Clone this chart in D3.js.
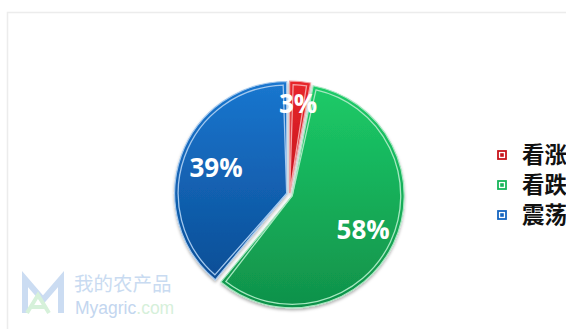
<!DOCTYPE html>
<html>
<head>
<meta charset="utf-8">
<script src="https://cdn.jsdelivr.net/npm/d3@7"></script>
<style>
  html, body { margin: 0; padding: 0; background: #fff; overflow: hidden; }
</style>
</head>
<body>
<div id="chart"></div>
<script>
// Chart data
var categories = ["看涨", "看跌", "震荡"];
var values = [3, 58, 39];
var pctLabels = ["3%", "58%", "39%"];

// Slice colours (top of gradient, bottom of gradient, edge line)
var topCols = ["#e8262b", "#1ccb68", "#1a76cf"];
var botCols = ["#c4141c", "#10914a", "#0b4e96"];
var edgeCols = ["#f4a3a5", "#a6e8c0", "#a3c8ee"];
var legendCols = ["#c8141c", "#17b55a", "#1565c0"];

var svgWdt = 566;
var svgHgt = 329;
var cx = 289.5, cy = 194.5, rad = 112;
var explode = [1.5, 3, 3];

var svg = d3.select("#chart").append("svg")
    .attr("width", svgWdt)
    .attr("height", svgHgt)
    .style("font-family", "'Open Sans', 'Noto Sans CJK SC', sans-serif");

var defs = svg.append("defs");

// Gradients for slices
categories.forEach((c, i) => {
    var g = defs.append("linearGradient")
        .attr("id", "grad" + i)
        .attr("x1", 0).attr("y1", 0).attr("x2", 0).attr("y2", 1);
    g.append("stop").attr("offset", "0%").attr("stop-color", topCols[i]);
    g.append("stop").attr("offset", "100%").attr("stop-color", botCols[i]);
});

var shadow = defs.append("filter").attr("id", "shadow")
    .attr("x", "-10%").attr("y", "-10%").attr("width", "130%").attr("height", "130%");
shadow.append("feDropShadow")
    .attr("dx", 0).attr("dy", 2).attr("stdDeviation", 1.5)
    .attr("flood-color", "#000").attr("flood-opacity", 0.3);

// Panel border
svg.append("path")
    .attr("d", `M7.5,${svgHgt} L7.5,12.5 L${svgWdt},12.5`)
    .attr("fill", "none")
    .attr("stroke", "#ececec")
    .attr("stroke-width", 1.5);

// Watermark
var wm = svg.append("g");
wm.append("path")
    .attr("d", "M25,313 L25,279 L43,300 L61,279 L61,313")
    .attr("fill", "none")
    .attr("stroke", "#cbdcf2")
    .attr("stroke-width", 6)
    .attr("stroke-linejoin", "miter");
wm.append("path")
    .attr("d", "M27,313 L38,295 L49,313 M31,307 L45,307")
    .attr("fill", "none")
    .attr("stroke", "#d6f1da")
    .attr("stroke-width", 4);
wm.append("text")
    .attr("x", 74).attr("y", 291)
    .attr("font-size", 19.5)
    .attr("fill", "#c9dbf1")
    .style("font-family", "'Noto Sans CJK SC', sans-serif")
    .text("我的农产品");
var wmt = wm.append("text")
    .attr("x", 75).attr("y", 314)
    .attr("font-size", 17.5)
    .style("font-family", "'Liberation Sans', Arial, sans-serif");
wmt.append("tspan").attr("fill", "#c3d6ef").text("Myagric");
wmt.append("tspan").attr("fill", "#d6f0da").text(".com");

// Pie
var pie = d3.pie().sort(null).value(d => d);
var arcs = pie(values);

var arc = d3.arc().innerRadius(0).outerRadius(rad);
var innerArc = d3.arc().innerRadius(0).outerRadius(rad - 3.5)
    .padAngle(7 / rad).padRadius(rad);

var pieGrp = svg.append("g")
    .attr("transform", `translate(${cx}, ${cy})`);

function shift(d, i) {
    var mid = (d.startAngle + d.endAngle) / 2;
    return [Math.sin(mid) * explode[i], -Math.cos(mid) * explode[i]];
}

var slices = pieGrp.selectAll(".slice").data(arcs)
    .enter()
    .append("g")
        .attr("class", "slice")
        .attr("transform", (d, i) => `translate(${shift(d, i)})`);

slices.append("path")
    .attr("d", arc)
    .attr("fill", (d, i) => `url(#grad${i})`)
    .attr("stroke", (d, i) => edgeCols[i])
    .attr("stroke-width", 1.2)
    .attr("filter", "url(#shadow)");

slices.append("path")
    .attr("d", innerArc)
    .attr("fill", "none")
    .attr("stroke", (d, i) => edgeCols[i])
    .attr("stroke-width", 1.3);

// Percent labels (on top of all slices)
var lblRad = [rad * 0.8, rad * 0.7, rad * 0.67];
pieGrp.selectAll(".pct").data(arcs)
    .enter()
    .append("text")
        .attr("class", "pct")
        .attr("transform", (d, i) => {
            var a = d3.arc().innerRadius(lblRad[i]).outerRadius(lblRad[i]);
            var c = a.centroid(d);
            var s = shift(d, i);
            return `translate(${c[0] + s[0]}, ${c[1] + s[1]})`;
        })
        .attr("text-anchor", "middle")
        .attr("dy", "0.36em")
        .attr("font-size", 26)
        .attr("font-weight", "bold")
        .attr("fill", "#fff")
        .text((d, i) => pctLabels[i]);

// Legend
var legend = svg.append("g")
    .attr("transform", "translate(498, 155)");

var items = legend.selectAll(".item").data(categories)
    .enter()
    .append("g")
        .attr("class", "item")
        .attr("transform", (d, i) => `translate(0, ${i * 30})`);

items.append("rect")
    .attr("x", 0).attr("y", -4)
    .attr("width", 8).attr("height", 8)
    .attr("fill", "#fff")
    .attr("stroke", (d, i) => legendCols[i])
    .attr("stroke-width", 1.8);
items.append("rect")
    .attr("x", 2.2).attr("y", -1.8)
    .attr("width", 3.6).attr("height", 3.6)
    .attr("fill", (d, i) => legendCols[i]);

items.append("text")
    .attr("x", 24)
    .attr("dy", "0.36em")
    .attr("font-size", 22.5)
    .attr("font-weight", "bold")
    .attr("fill", "#111")
    .style("font-family", "'Noto Sans CJK SC', sans-serif")
    .text(d => d);
</script>
</body>
</html>
